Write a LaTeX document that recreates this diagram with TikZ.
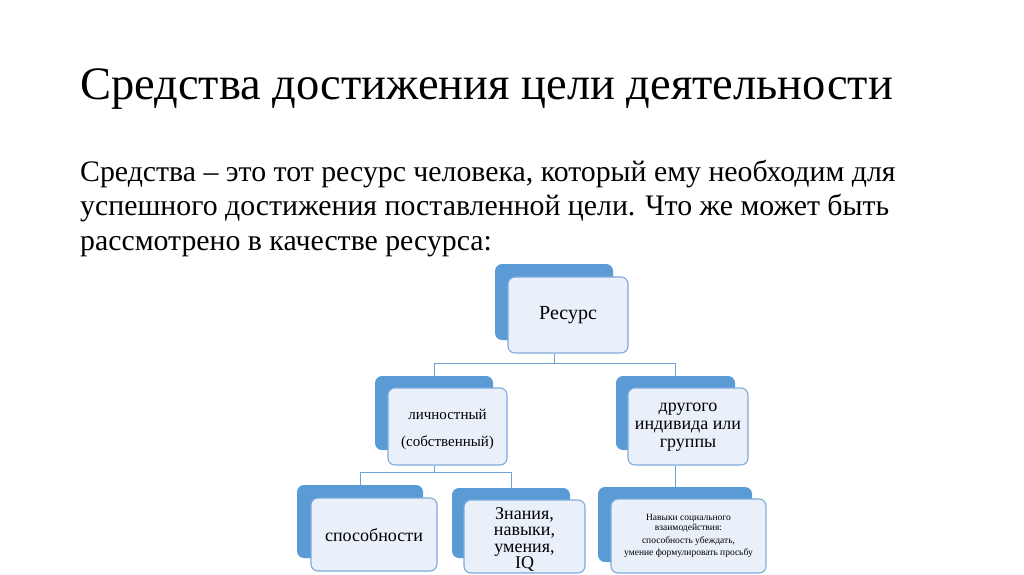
\documentclass[tikz,border=0pt]{standalone}
\usepackage{fontspec}
\usetikzlibrary{calc}
\setmainfont{Liberation Serif}
\definecolor{darkb}{HTML}{5B9BD5}
\definecolor{lightf}{HTML}{EAF0F9}
\definecolor{edgeb}{HTML}{7EAADB}
\definecolor{lineb}{HTML}{6FA2D8}
\newcommand{\boxpair}[9]{%
  \node[backbox, minimum width=#4pt-#2pt, minimum height=#5pt-#3pt] (#1b) at ({(#2+#4)/2},{(#3+#5)/2}) {};
  \node[frontbox, minimum width=#8pt-#6pt, minimum height=#9pt-#7pt] (#1f) at ({(#6+#8)/2},{(#7+#9)/2}) {};
}
\begin{document}
\begin{tikzpicture}[x=1pt,y=-1pt,
  backbox/.style={fill=darkb, rounded corners=7pt, inner sep=0pt},
  frontbox/.style={fill=lightf, draw=edgeb, line width=1.1pt, rounded corners=7pt, inner sep=0pt, align=center},
  conn/.style={draw=lineb, line width=0.9pt},
  txt/.style={inner sep=0pt, anchor=base west},
  btxt/.style={align=center, inner sep=0pt}]
\useasboundingbox[fill=white] (0,0) rectangle (1024,574);
% title and body
\node[txt, font=\fontsize{46.5}{52}\selectfont] (title) at (80,99) {Средства достижения цели деятельности};
\node[txt, font=\fontsize{29.8}{34}\selectfont] (b1) at (80,181) {Средства – это тот ресурс человека, который ему необходим для};
\node[txt, font=\fontsize{29.8}{34}\selectfont] (b2) at (80,215.5) {успешного достижения поставленной цели. Что же может быть};
\node[txt, font=\fontsize{29.8}{34}\selectfont] (b3) at (80,250) {рассмотрено в качестве ресурса:};
% boxes: back (x1,y1,x2,y2) and front
\boxpair{r}{495}{264}{613}{340}{508}{277}{628}{353}
\boxpair{l}{375}{376}{493}{450}{388}{388}{507}{465}
\boxpair{g}{616}{376}{735}{450}{628}{388}{748}{465}
\boxpair{s}{297}{485}{423}{558}{311}{498}{437}{571}
\boxpair{z}{452}{488}{570}{558}{464}{500}{585}{573}
\boxpair{n}{598}{487}{752}{562}{611}{499}{766}{573}
% texts
\node[btxt, font=\fontsize{20}{24}\selectfont] (tr) at (rf.center) {Ресурс};
\node[btxt, font=\fontsize{15}{27}\selectfont] (tl) at ($(lf.center)+(0,3)$) {личностный\\(собственный)};
\node[btxt, font=\fontsize{18}{18}\selectfont] (tg) at ($(gf.center)+(0,1)$) {другого\\индивида или\\группы};
\node[btxt, font=\fontsize{18}{20}\selectfont] (ts) at ($(sf.center)+(0,1)$) {способности};
\node[btxt, font=\fontsize{18}{16.5}\selectfont] (tz) at ($(zf.center)+(0,3)$) {Знания,\\навыки,\\умения,\\IQ};
\node[btxt, font=\fontsize{9.5}{10.5}\selectfont] (tn) at (nf.center) {Навыки социального\\взаимодействия:\\[2pt]способность убеждать,\\[2pt]умение формулировать просьбу};
% connectors
\coordinate (bus1) at (0,363);
\coordinate (bus2) at (0,472);
\draw[conn] (rb.center |- rf.south) -- (rb.center |- bus1) -| (lb.north);
\draw[conn] (rb.center |- bus1) -| (gb.north);
\draw[conn] (lb.center |- lf.south) -- (lb.center |- bus2) -| (sb.north);
\draw[conn] (lb.center |- bus2) -| (zb.north);
\draw[conn] (gb.center |- gf.south) -- (gb.center |- nb.north);
\end{tikzpicture}
\end{document}
